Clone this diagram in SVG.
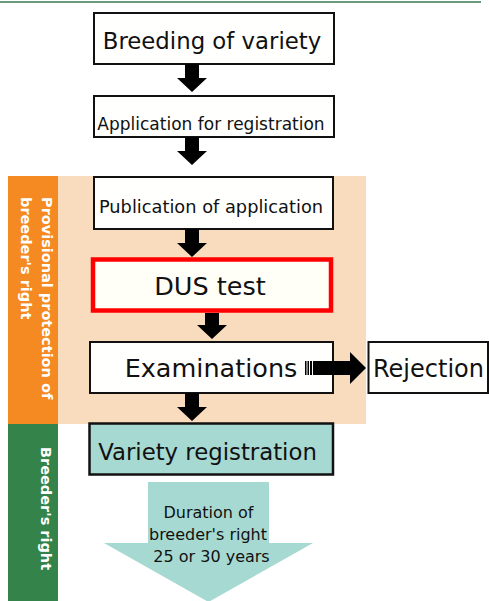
<svg xmlns="http://www.w3.org/2000/svg" width="489" height="601" viewBox="0 0 489 601">
<style>
text{font-family:"DejaVu Sans","Liberation Sans",sans-serif;fill:#111}
.box{fill:#fffffd;stroke:#111;stroke-width:2}
.arr{fill:#000}
.band{fill:#fff;font-weight:bold;font-size:14.5px}
</style>
<line x1="0" y1="2" x2="481" y2="2" stroke="#3a7a55" stroke-width="1.5"/>
<g id="bands">
<rect x="58" y="176" width="308" height="248" fill="#f9dbbd"/>
<rect x="8" y="176" width="50" height="248" fill="#f58a22"/>
<rect x="8" y="424" width="50" height="177" fill="#33834a"/>
</g>
<g id="label-provisional">
<text class="band" transform="translate(41.5,197) rotate(90)"><tspan x="0" y="0">Provisional protection of</tspan><tspan x="0" y="20.5">breeder's right</tspan></text>
</g>
<g id="label-breeders-right">
<text class="band" transform="translate(40.5,447) rotate(90)">Breeder's right</text>
</g>
<g id="node-breeding">
<rect class="box" x="94" y="13" width="240" height="51"/>
<text x="212" y="49" font-size="22.8" text-anchor="middle">Breeding of variety</text>
</g>
<g id="node-application">
<rect class="box" x="94" y="96" width="240" height="41"/>
<text x="211" y="130" font-size="17" text-anchor="middle">Application for registration</text>
</g>
<g id="node-publication">
<rect class="box" x="94" y="177" width="239" height="52"/>
<text x="211" y="213" font-size="17.8" text-anchor="middle">Publication of application</text>
</g>
<g id="node-dus">
<rect x="93" y="259.5" width="238" height="51" fill="#fffef7" stroke="#ff0000" stroke-width="4.5"/>
<text x="210" y="295" font-size="25.5" text-anchor="middle">DUS test</text>
</g>
<g id="node-examinations">
<rect class="box" x="90" y="342" width="243" height="51"/>
<text x="211" y="377" font-size="25.5" text-anchor="middle">Examinations</text>
</g>
<g id="node-rejection">
<rect class="box" x="368.5" y="342" width="119.5" height="51"/>
<text x="373" y="377" font-size="24">Rejection</text>
</g>
<g id="node-registration">
<rect x="89.5" y="423.5" width="243.5" height="51" fill="#a6d9d2" stroke="#111" stroke-width="2.5"/>
<text x="207.5" y="460" font-size="22.8" text-anchor="middle">Variety registration</text>
</g>
<g id="node-duration">
<polygon points="148,482 269,482 269,543 313,543 208.5,602 104,543 148,543" fill="#a6d9d2"/>
<text font-size="16" text-anchor="middle"><tspan x="208.5" y="518">Duration of</tspan><tspan x="208" y="540">breeder's right</tspan><tspan x="211.5" y="561.5">25 or 30 years</tspan></text>
</g>
<g id="connectors">
<polygon class="arr" points="185,64 199,64 199,78 207,78 192,92 177,78 185,78"/>
<polygon class="arr" points="185,137 199,137 199,151 207,151 192,165 177,151 185,151"/>
<polygon class="arr" points="185,229 199,229 199,243 207,243 192,257 177,243 185,243"/>
<polygon class="arr" points="205,313 219,313 219,325 227,325 212,339 197,325 205,325"/>
<polygon class="arr" points="185,393 199,393 199,407 207,407 192,421 177,407 185,407"/>
<g id="arrow-reject">
<rect class="arr" x="305" y="361" width="1.5" height="14"/>
<rect class="arr" x="307.5" y="361" width="1.5" height="14"/>
<rect class="arr" x="310" y="361" width="2" height="14"/>
<polygon class="arr" points="313,361 350,361 350,352 366,368 350,384 350,375 313,375"/>
</g>
</g>
</svg>
